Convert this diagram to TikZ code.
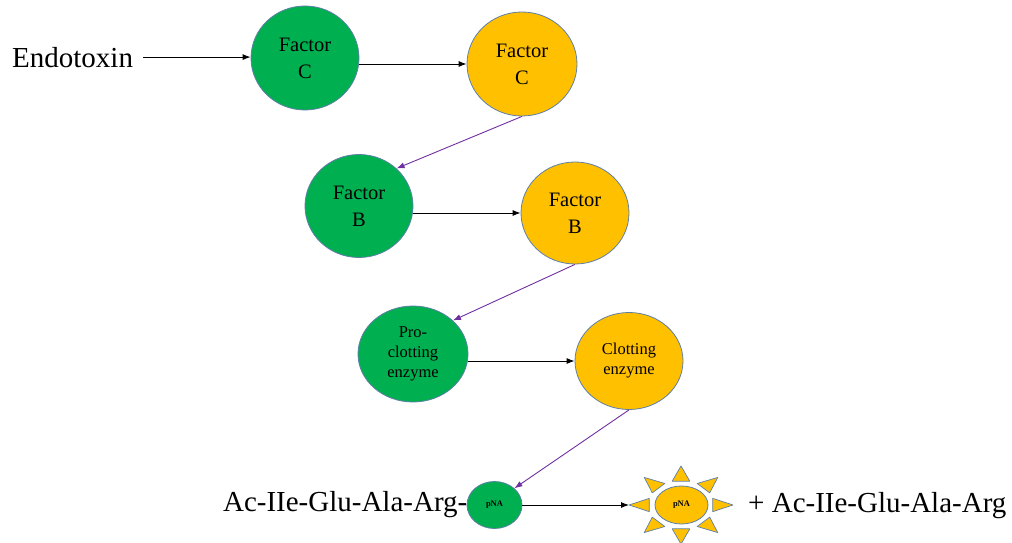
\documentclass[tikz,border=0pt]{standalone}
\usepackage{fontspec}
\setmainfont{Liberation Serif}
\usetikzlibrary{arrows.meta,shapes.geometric}
\definecolor{offgreen}{HTML}{00B050}
\definecolor{offyellow}{HTML}{FFC000}
\definecolor{edgeblue}{HTML}{5E7FA6}
\definecolor{arrpurple}{HTML}{7030A0}
\tikzset{
  blob/.style={ellipse, draw=edgeblue, line width=0.8pt, inner sep=0pt, align=center,
               font=\rmfamily\fontsize{20.5}{27}\selectfont},
  gblob/.style={blob, fill=offgreen},
  yblob/.style={blob, fill=offyellow},
  smalltext/.style={font=\rmfamily\fontsize{16.5}{20}\selectfont},
  tinytext/.style={font=\rmfamily\bfseries\fontsize{8.5}{10}\selectfont},
  bigtext/.style={font=\rmfamily\fontsize{29}{32}\selectfont, inner sep=0pt},
  arr/.style={line width=0.9pt, -{Latex[length=8pt,width=6pt]}},
  parr/.style={arr, draw=arrpurple, color=arrpurple},
  ray/.style={fill=offyellow, draw=edgeblue, line width=0.7pt, line join=round},
}
\begin{document}
\begin{tikzpicture}[x=1pt,y=-1pt]
\useasboundingbox (0,0) rectangle (1012,543);
% row 1
\node[bigtext, anchor=base west] (endo) at (12,67) {Endotoxin};
\node[gblob, minimum width=108pt, minimum height=104pt] (gC) at (305,58) {Factor\\C};
\node[yblob, minimum width=110pt, minimum height=104pt] (yC) at (522,64) {Factor\\C};
% row 2
\node[gblob, minimum width=108pt, minimum height=103pt] (gB) at (359,206) {Factor\\B};
\node[yblob, minimum width=108pt, minimum height=102pt] (yB) at (575,213) {Factor\\B};
% row 3
\node[gblob, smalltext, minimum width=110pt, minimum height=96pt] (pro) at (413,354) {Pro-\\clotting\\enzyme};
\node[yblob, smalltext, minimum width=108pt, minimum height=97pt] (clot) at (629,361) {Clotting\\enzyme};
% row 4
\node[gblob, tinytext, minimum width=55pt, minimum height=47pt] (pna) at (494.5,505) {pNA};
\node[bigtext, anchor=base east] (subL) at (467.5,511) {Ac-IIe-Glu-Ala-Arg-};
% sun
\begin{scope}[shift={(681,505)}, x=52pt, y=-39pt]
  \foreach \a in {0,45,...,315}{
    \draw[ray] ({cos(\a)},{sin(\a)}) -- ({0.61*cos(\a)-0.17*sin(\a)},{0.61*sin(\a)+0.17*cos(\a)})
      -- ({0.61*cos(\a)+0.17*sin(\a)},{0.61*sin(\a)-0.17*cos(\a)}) -- cycle;
  }
  \coordinate (sunL) at (-1,0);
\end{scope}
\node[yblob, tinytext, minimum width=53pt, minimum height=38pt] (sun) at (681.5,505) {pNA};
\node[bigtext, anchor=base west] (subR) at (748,512) {+ Ac-IIe-Glu-Ala-Arg};
% connectors
\draw[arr] ([xshift=10pt]endo.east) -- (gC.west |- endo.east);
\draw[arr] (gC.east |- yC.west) -- (yC.west);
\draw[arr] (gB.east |- yB.west) -- (yB.west);
\draw[arr] (pro.east |- clot.west) -- (clot.west);
\draw[arr] (pna.east) -- (sunL);
\draw[parr] (yC.south) -- (gB.45);
\draw[parr] (yB.south) -- (pro.40);
\draw[parr] (clot.south) -- (pna.40);
\end{tikzpicture}
\end{document}
